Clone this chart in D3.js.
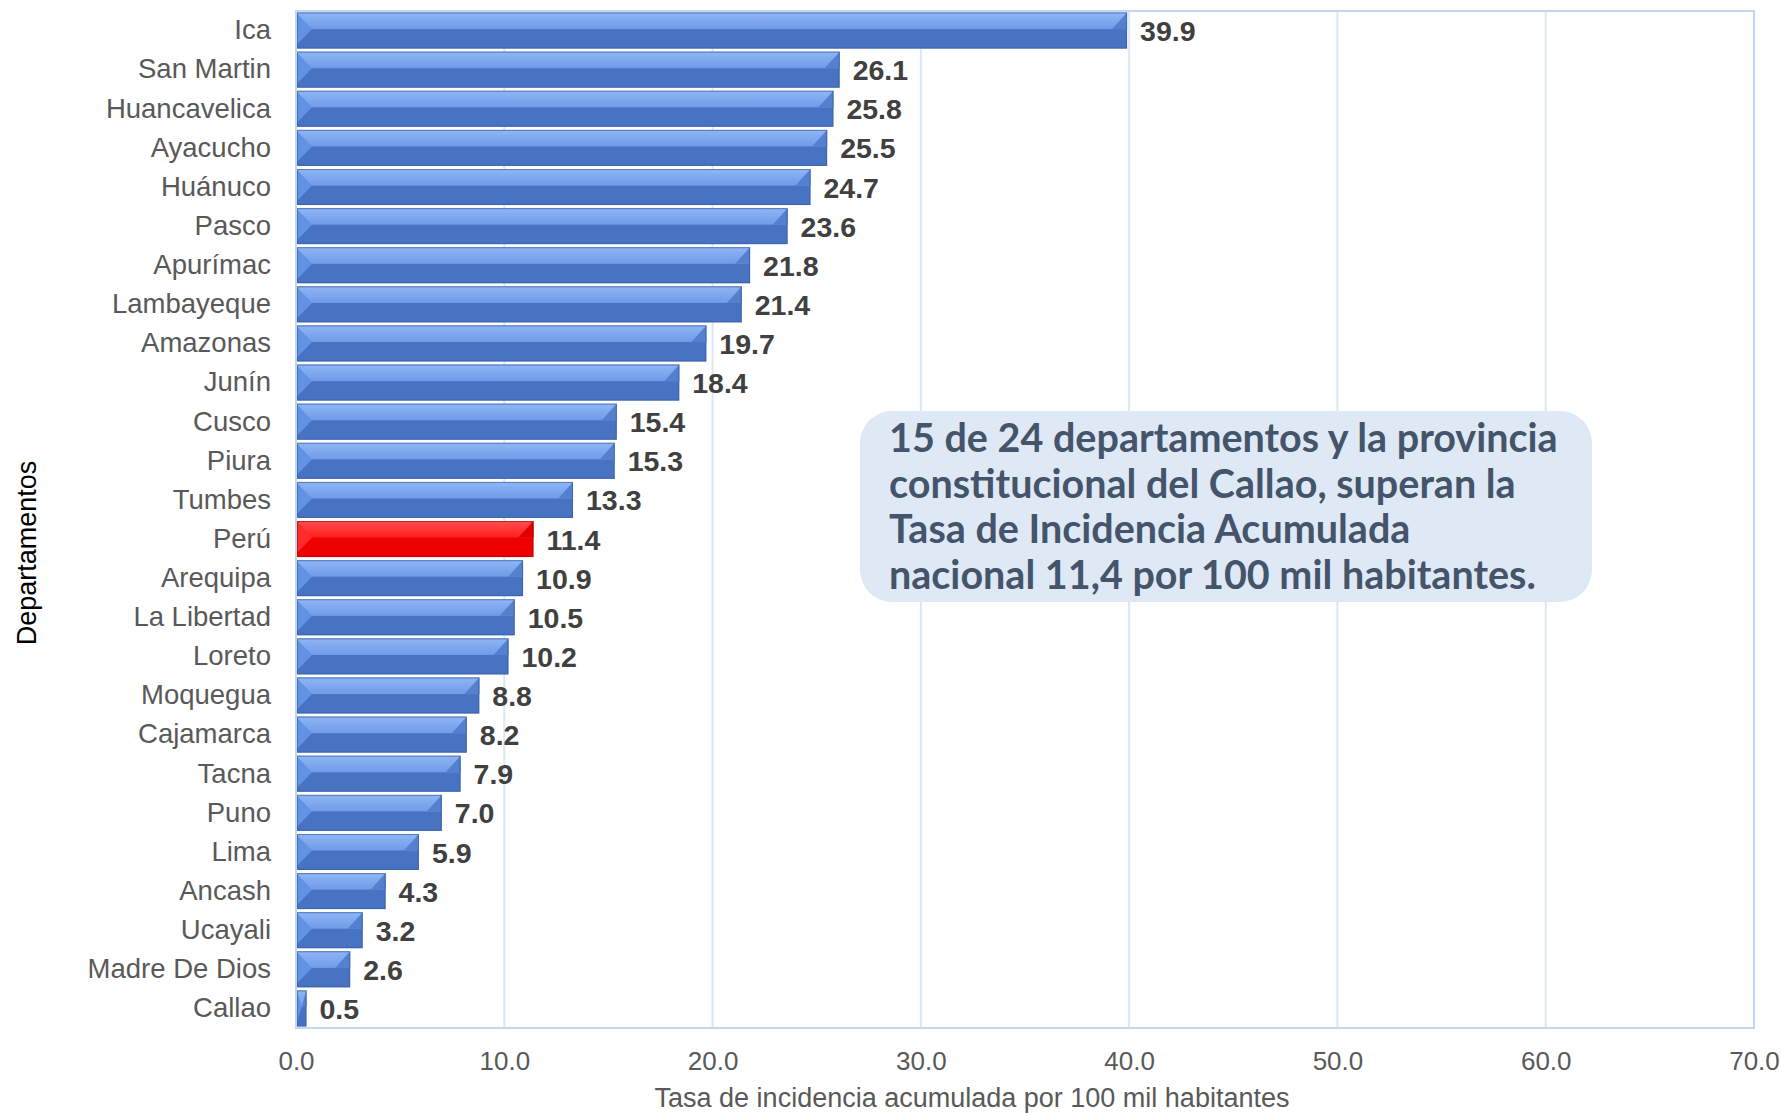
<!DOCTYPE html>
<html>
<head>
<meta charset="utf-8">
<script src="https://cdn.jsdelivr.net/npm/d3@7"></script>
<style>
  body { margin: 0; background: #fff; }
  svg { display: block; font-family: Arial, "Liberation Sans", sans-serif; }
</style>
</head>
<body>
<div id="chart"></div>
<script>
// datos, de arriba a abajo
const departamentos = ["Ica", "San Martin", "Huancavelica", "Ayacucho", "Huánuco", "Pasco",
  "Apurímac", "Lambayeque", "Amazonas", "Junín", "Cusco", "Piura", "Tumbes", "Perú",
  "Arequipa", "La Libertad", "Loreto", "Moquegua", "Cajamarca", "Tacna", "Puno", "Lima",
  "Ancash", "Ucayali", "Madre De Dios", "Callao"];
const tasas = [39.9, 26.1, 25.8, 25.5, 24.7, 23.6, 21.8, 21.4, 19.7, 18.4, 15.4, 15.3, 13.3,
  11.4, 10.9, 10.5, 10.2, 8.8, 8.2, 7.9, 7.0, 5.9, 4.3, 3.2, 2.6, 0.5];
const xTicks = [0, 10, 20, 30, 40, 50, 60, 70];
const nacional = "Perú";
const nota = ["15 de 24 departamentos y la provincia",
  "constitucional del Callao, superan la",
  "Tasa de Incidencia Acumulada",
  "nacional 11,4 por 100 mil habitantes."];

const W = 1781, H = 1116;
const m = { left: 296, right: 1754, top: 11, bottom: 1028 };
const data = departamentos.map((d, i) => ({ dep: d, v: tasas[i] }));
const FONT = "Arial, 'Liberation Sans', sans-serif";

const svg = d3.select("#chart").append("svg").attr("width", W).attr("height", H);

const x = d3.scaleLinear([0, 70], [m.left, m.right]);
const y = d3.scaleBand(departamentos, [m.top, m.bottom]).paddingInner(0.08).paddingOuter(0.04);

// rejilla
svg.append("g").selectAll("line").data(xTicks.slice(1, -1)).enter().append("line")
  .attr("x1", d => x(d)).attr("x2", d => x(d))
  .attr("y1", m.top).attr("y2", m.bottom)
  .attr("stroke", "#dbe7f3").attr("stroke-width", 2);

// marco del área de trazado
svg.append("rect")
  .attr("x", m.left).attr("y", m.top)
  .attr("width", m.right - m.left).attr("height", m.bottom - m.top)
  .attr("fill", "none").attr("stroke", "#c2d8ef").attr("stroke-width", 2);

// colores de las barras con bisel
const paletas = {
  azul: { top: "#8fb6f5", mid: "#6f9be9", left: "#6292e4", corner: "#5580d0", bottom: "#4872c2", line: "#34589a" },
  rojo: { top: "#ff5050", mid: "#ff1c1c", left: "#ff2a2a", corner: "#e00000", bottom: "#ee0000", line: "#a80000" }
};

const defs = svg.append("defs");
Object.entries(paletas).forEach(([k, p]) => {
  const g = defs.append("linearGradient").attr("id", "g-" + k)
    .attr("x1", 0).attr("x2", 0).attr("y1", 0).attr("y2", 1);
  g.append("stop").attr("offset", "0%").attr("stop-color", p.top);
  g.append("stop").attr("offset", "100%").attr("stop-color", p.mid);
});

const bars = svg.append("g").selectAll("g.bar").data(data).enter().append("g").classed("bar", true);

bars.each(function (d) {
  const g = d3.select(this);
  const k = d.dep === nacional ? "rojo" : "azul";
  const p = paletas[k];
  const x0 = x(0) + 1, x1 = x(d.v);
  const y0 = y(d.dep), y1 = y0 + y.bandwidth();
  const h = y1 - y0;
  const b = Math.min(15, (x1 - x0) / 2);
  const ym = y0 + h * 0.46;
  const pts = a => a.map(q => q.join(",")).join(" ");
  // base
  g.append("rect").attr("x", x0).attr("y", y0).attr("width", x1 - x0).attr("height", h)
    .attr("fill", p.bottom);
  // franja superior clara
  g.append("rect").attr("x", x0).attr("y", y0).attr("width", x1 - x0).attr("height", ym - y0)
    .attr("fill", "url(#g-" + k + ")");
  // esquina derecha
  g.append("polygon").attr("points", pts([[x1, y0], [x1, ym], [x1 - b, ym]]))
    .attr("fill", p.corner);
  // bisel izquierdo
  g.append("polygon").attr("points", pts([[x0, y0 + 1], [x0 + b, ym], [x0, y1 - 4]]))
    .attr("fill", p.left);
  // contorno
  g.append("rect").attr("x", x0 + 0.5).attr("y", y0 + 0.5).attr("width", Math.max(0, x1 - x0 - 1)).attr("height", h - 1)
    .attr("fill", "none").attr("stroke", p.line).attr("stroke-opacity", 0.6).attr("stroke-width", 1);
});

// etiquetas de valor
svg.append("g").selectAll("text").data(data).enter().append("text")
  .attr("x", d => x(d.v) + 13)
  .attr("y", d => y(d.dep) + y.bandwidth() / 2)
  .attr("dy", "0.37em")
  .attr("font-family", FONT)
  .attr("font-size", 28.5).attr("font-weight", "bold").attr("fill", "#404040")
  .text(d => d.v.toFixed(1));

// eje y (categorías)
const yAxis = svg.append("g").attr("transform", `translate(${m.left - 25},0)`)
  .call(d3.axisLeft(y).tickSize(0).tickPadding(0));
yAxis.select(".domain").remove();
yAxis.attr("font-family", FONT);
yAxis.selectAll("text").attr("font-size", 27.5).attr("fill", "#595959");

// eje x
const xAxis = svg.append("g").attr("transform", `translate(0,${m.bottom})`)
  .call(d3.axisBottom(x).tickValues(xTicks).tickFormat(d3.format(".1f")).tickSize(0).tickPadding(24));
xAxis.select(".domain").remove();
xAxis.attr("font-family", FONT);
xAxis.selectAll("text").attr("font-size", 26).attr("fill", "#595959");

// títulos de ejes
svg.append("text")
  .attr("x", 972).attr("y", 1107)
  .attr("text-anchor", "middle").attr("font-size", 27).attr("fill", "#595959")
  .text("Tasa de incidencia acumulada por 100 mil habitantes");
svg.append("text")
  .attr("transform", "translate(36,553) rotate(-90)")
  .attr("text-anchor", "middle").attr("font-size", 27).attr("fill", "#000")
  .text("Departamentos");

// recuadro de nota
const nx = 860, ny = 411, nw = 732, nh = 191;
svg.append("rect").attr("x", nx).attr("y", ny).attr("width", nw).attr("height", nh)
  .attr("rx", 32).attr("fill", "#dfe9f5");
svg.append("g").selectAll("text").data(nota).enter().append("text")
  .attr("x", nx + 29).attr("y", (d, i) => 452 + i * 45.5)
  .attr("font-family", "Lato, 'Open Sans', sans-serif").attr("font-weight", "bold")
  .attr("font-size", 39.5).attr("fill", "#44546a")
  .text(d => d);
</script>
</body>
</html>
